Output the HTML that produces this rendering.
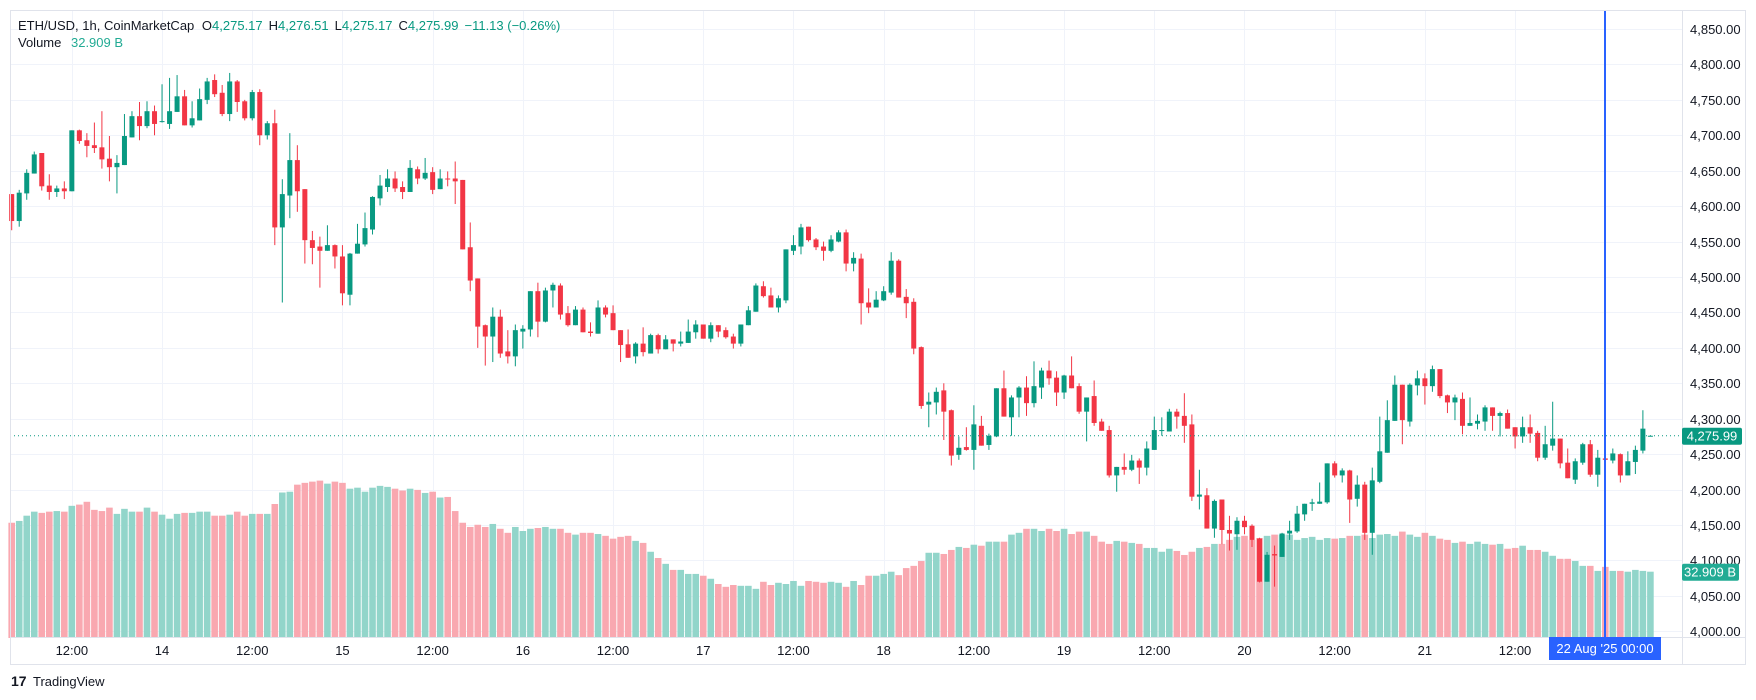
<!DOCTYPE html>
<html><head><meta charset="utf-8">
<style>
html,body{margin:0;padding:0;background:#fff;width:1756px;height:700px;overflow:hidden;font-family:"Liberation Sans",sans-serif;}
svg{position:absolute;left:0;top:0}
</style></head>
<body>
<svg id="chart" width="1756" height="700" viewBox="0 0 1756 700" xmlns="http://www.w3.org/2000/svg">
<rect x="0" y="0" width="1756" height="700" fill="#fff"/>
<g id="grid"></g>
<g id="vol"></g>
<g id="candles"></g>
<g id="overlay"></g>
<rect x="10.5" y="10.5" width="1735" height="654" fill="none" stroke="#e0e3eb"/>
<line x1="1682.5" y1="10" x2="1682.5" y2="664" stroke="#e0e3eb"/>
<line x1="10" y1="637.5" x2="1746" y2="637.5" stroke="#e0e3eb"/>
<g id="yaxis"></g>
<g id="xaxis"></g>
<g font-size="13" fill="#131722">
<text x="18" y="30">ETH/USD, 1h, CoinMarketCap <tspan dx="4">O</tspan><tspan fill="#089981">4,275.17</tspan><tspan dx="6">H</tspan><tspan fill="#089981">4,276.51</tspan><tspan dx="6">L</tspan><tspan fill="#089981">4,275.17</tspan><tspan dx="6">C</tspan><tspan fill="#089981">4,275.99</tspan><tspan dx="6" fill="#089981">−11.13 (−0.26%)</tspan></text>
<text x="18" y="47">Volume <tspan dx="6" fill="#22ab94">32.909 B</tspan></text>
</g>
<g>
<text x="11" y="686" font-size="14" font-weight="bold" fill="#131722">17</text>
<text x="33" y="686" font-size="13" fill="#131722">TradingView</text>
</g>
</svg>
<script>
const opens=[4617,4579,4618,4646,4675,4629,4620,4625,4621,4707,4693,4686,4683,4667,4655,4658,4697,4727,4713,4734,4719,4716,4733,4755,4714,4721,4750,4778,4760,4730,4776,4748,4724,4761,4700,4717,4570,4615,4665,4624,4552,4543,4537,4545,4529,4475,4533,4546,4567,4611,4627,4639,4627,4620,4652,4639,4648,4624,4639,4639,4637,4542,4498,4432,4416,4444,4395,4388,4423,4426,4480,4437,4481,4488,4449,4432,4454,4423,4420,4457,4449,4425,4405,4388,4406,4392,4418,4398,4412,4406,4407,4422,4433,4413,4432,4425,4416,4406,4432,4451,4487,4474,4457,4467,4537,4543,4571,4553,4543,4537,4550,4563,4519,4526,4464,4457,4467,4478,4523,4472,4465,4401,4320,4323,4340,4312,4249,4260,4256,4290,4263,4275,4343,4302,4330,4344,4322,4344,4368,4358,4337,4361,4346,4310,4332,4296,4284,4220,4232,4228,4241,4231,4256,4283,4282,4310,4304,4292,4190,4192,4145,4186,4143,4137,4156,4149,4131,4070,4109,4105,4138,4141,4165,4180,4180,4182,4237,4220,4227,4187,4207,4139,4211,4252,4297,4348,4296,4347,4357,4346,4370,4333,4323,4328,4290,4293,4296,4316,4304,4308,4288,4275,4288,4280,4245,4262,4272,4238,4214,4238,4264,4221,4244,4241,4250,4220,4239,4255,4275.17];
const highs=[4617,4623,4652,4677,4675,4645,4629,4635,4707,4708,4703,4718,4734,4699,4672,4730,4734,4747,4748,4742,4772,4781,4785,4764,4748,4766,4781,4786,4771,4788,4778,4750,4764,4765,4720,4736,4638,4703,4686,4624,4565,4557,4573,4546,4545,4534,4575,4591,4614,4644,4652,4649,4635,4665,4656,4668,4655,4652,4649,4663,4637,4577,4498,4433,4457,4454,4425,4433,4432,4480,4492,4485,4492,4491,4459,4459,4457,4436,4467,4460,4460,4425,4426,4408,4429,4420,4420,4418,4412,4423,4440,4439,4433,4436,4432,4429,4420,4433,4459,4491,4494,4485,4474,4539,4559,4575,4571,4555,4550,4559,4566,4567,4535,4533,4484,4480,4487,4535,4525,4483,4470,4402,4337,4344,4350,4313,4275,4288,4319,4304,4279,4343,4368,4333,4346,4360,4381,4372,4382,4367,4362,4388,4350,4330,4354,4300,4290,4232,4251,4249,4244,4268,4303,4302,4314,4314,4336,4306,4228,4202,4186,4186,4163,4161,4163,4151,4132,4112,4121,4139,4156,4177,4180,4187,4210,4237,4240,4230,4228,4220,4211,4231,4303,4326,4361,4348,4350,4368,4364,4375,4370,4334,4334,4337,4330,4306,4319,4316,4310,4313,4288,4303,4306,4283,4290,4324,4272,4258,4244,4266,4270,4256,4254,4258,4251,4254,4262,4312,4276.51];
const lows=[4566,4571,4609,4646,4622,4609,4613,4610,4621,4688,4669,4675,4653,4635,4618,4658,4697,4693,4710,4700,4718,4709,4733,4714,4711,4721,4744,4754,4727,4720,4733,4721,4721,4686,4694,4545,4464,4583,4592,4519,4518,4485,4537,4512,4460,4460,4533,4543,4560,4601,4620,4620,4610,4620,4631,4637,4617,4624,4628,4603,4539,4480,4400,4375,4380,4386,4378,4374,4399,4416,4415,4436,4457,4440,4430,4432,4422,4416,4420,4443,4425,4380,4386,4378,4388,4392,4392,4398,4395,4402,4407,4413,4413,4408,4415,4413,4399,4402,4432,4451,4471,4457,4450,4463,4531,4532,4550,4538,4523,4535,4549,4508,4508,4433,4449,4457,4466,4475,4471,4442,4391,4314,4288,4306,4270,4234,4242,4255,4228,4262,4256,4274,4303,4276,4302,4304,4316,4328,4348,4318,4328,4343,4307,4268,4290,4283,4217,4197,4221,4226,4208,4220,4256,4276,4282,4286,4266,4184,4172,4145,4132,4123,4114,4115,4137,4119,4069,4070,4063,4105,4129,4139,4156,4170,4180,4180,4217,4210,4153,4176,4129,4108,4209,4252,4297,4264,4289,4333,4320,4338,4329,4308,4298,4278,4290,4285,4283,4283,4275,4286,4258,4266,4266,4240,4242,4255,4230,4216,4208,4235,4218,4204,4211,4237,4210,4220,4222,4251,4275.17];
const closes=[4579,4619,4647,4673,4628,4620,4625,4621,4707,4692,4685,4682,4666,4655,4661,4699,4727,4713,4734,4716,4720,4734,4755,4714,4724,4751,4776,4758,4730,4776,4747,4724,4761,4700,4717,4570,4617,4665,4621,4552,4541,4537,4545,4529,4477,4533,4547,4569,4613,4629,4639,4625,4620,4654,4639,4647,4623,4639,4638,4635,4539,4495,4430,4416,4444,4392,4388,4425,4427,4480,4437,4481,4489,4447,4432,4454,4422,4421,4457,4447,4425,4404,4386,4406,4394,4418,4398,4412,4406,4409,4423,4433,4413,4432,4423,4415,4406,4433,4453,4488,4473,4457,4470,4539,4545,4570,4552,4542,4537,4553,4563,4519,4527,4463,4457,4468,4480,4523,4471,4463,4399,4318,4324,4338,4310,4248,4259,4256,4292,4262,4276,4343,4303,4330,4344,4322,4346,4368,4357,4337,4361,4343,4310,4330,4294,4283,4220,4232,4228,4241,4231,4258,4284,4284,4310,4303,4290,4190,4193,4145,4184,4143,4138,4156,4147,4129,4070,4108,4107,4138,4142,4166,4180,4182,4183,4237,4220,4227,4186,4207,4139,4213,4254,4298,4348,4298,4348,4357,4346,4370,4332,4323,4330,4290,4294,4297,4316,4304,4308,4286,4275,4288,4279,4245,4264,4272,4237,4216,4240,4264,4221,4245,4242,4251,4220,4240,4256,4286,4275.99];
const volumes=[57.2,58.1,60.7,62.7,62.1,62.7,63.0,62.7,65.6,66.2,67.6,63.6,63.0,64.7,61.6,64.1,62.7,62.7,64.7,62.7,61.2,59.2,61.6,62.1,62.1,62.7,62.7,60.7,60.7,61.2,62.7,60.7,61.6,61.6,61.6,66.5,72.2,72.6,76.1,77.0,77.6,78.1,76.6,77.6,77.0,74.1,74.6,72.6,74.6,75.5,75.0,74.1,73.2,74.1,73.5,72.0,72.6,69.7,70.0,63.0,57.2,55.1,56.2,55.1,56.6,54.2,52.2,55.1,53.1,54.2,54.6,55.1,54.2,54.2,52.2,51.3,52.2,52.2,51.6,50.7,49.3,50.2,50.7,48.2,47.2,42.8,39.7,36.8,33.8,33.8,31.8,31.8,30.9,29.4,26.8,25.4,26.3,25.9,25.9,24.4,27.9,26.3,27.4,26.8,28.3,25.9,28.3,27.9,27.4,27.9,27.4,25.4,28.3,26.3,30.9,30.9,31.8,32.9,31.2,34.7,35.8,38.2,42.3,42.3,41.7,43.7,45.2,44.7,46.3,45.8,47.8,47.8,47.8,51.3,52.2,54.2,54.2,53.1,54.2,53.1,54.2,51.6,52.8,52.8,50.7,47.8,46.7,48.2,47.8,47.2,46.7,44.7,44.7,42.8,44.3,43.2,41.2,42.8,44.7,45.2,46.7,46.7,48.7,50.2,50.7,48.7,49.6,50.7,51.3,51.3,51.3,48.7,49.6,50.2,48.7,49.6,49.3,49.6,50.7,50.7,51.3,49.6,51.3,51.6,50.7,52.8,51.3,50.2,52.2,50.7,49.3,48.7,47.2,47.8,46.7,47.8,46.7,46.3,46.7,44.3,44.7,45.8,43.7,43.7,42.8,40.8,39.3,39.3,38.2,35.8,35.8,33.3,35.3,33.3,33.3,32.9,33.8,33.3,32.909];
const priceTicks=[4000,4050,4100,4150,4200,4250,4300,4350,4400,4450,4500,4550,4600,4650,4700,4750,4800,4850];
const timeLabels=["12:00","14","12:00","15","12:00","16","12:00","17","12:00","18","12:00","19","12:00","20","12:00","21","12:00"];
const lastPrice=4275.99;

const NS="http://www.w3.org/2000/svg";
function yP(p){return 29+(4850-p)*0.7086;}
function xI(i){return 11.7+i*7.517;}
function yV(v){return 638-v*2.015;}
function mk(tag,attrs,parent){const e=document.createElementNS(NS,tag);for(const k in attrs)e.setAttribute(k,attrs[k]);parent.appendChild(e);return e;}
const grid=document.getElementById('grid'),vol=document.getElementById('vol'),cg=document.getElementById('candles'),ov=document.getElementById('overlay'),ya=document.getElementById('yaxis'),xa=document.getElementById('xaxis');

priceTicks.forEach(p=>{
  const y=Math.round(yP(p))+0.5;
  const l=mk('line',{x1:10,x2:1682,y1:y,y2:y,stroke:'#f0f3fa'},grid);
  
  
  const t=mk('text',{x:1690,y:y+4.5,'font-size':13,fill:'#131722'},ya);
  t.textContent=p.toLocaleString('en-US',{minimumFractionDigits:2});
  
  
});
timeLabels.forEach((s,k)=>{
  const x=xI(8)+ (k)*90.2; // first label at 13 Aug 12:00 (i=8)
  const l=mk('line',{x1:Math.round(x)+0.5,x2:Math.round(x)+0.5,y1:10,y2:637,stroke:'#f0f3fa'},grid);
  
  
  const t=mk('text',{x:x,y:655,'font-size':13,fill:'#131722','text-anchor':'middle'},xa);
  t.textContent=s;
  
  
});

volumes.forEach((v,i)=>{
  const up=closes[i]>=opens[i];
  const x=xI(i);
  const r=mk('rect',{x:x-3.3,y:yV(v),width:6.6,height:638-yV(v),fill:up?'#92d5ca':'#f9a8b0'},vol);
  
  
});
opens.forEach((o,i)=>{
  const c=closes[i],up=c>=o,col=up?'#089981':'#f23645',x=xI(i);
  const w=mk('line',{x1:x,x2:x,y1:yP(highs[i]),y2:yP(lows[i]),stroke:col,'stroke-width':1},cg);
  
  
  const top=yP(Math.max(o,c)),bot=yP(Math.min(o,c));
  const b=mk('rect',{x:x-2.5,y:top,width:5,height:Math.max(1,bot-top),fill:col},cg);
  
  
});

const ly=yP(lastPrice);
const dl=mk('line',{x1:10,x2:1682,y1:ly,y2:ly,stroke:'#089981','stroke-dasharray':'1 3'},ov);


const bl=mk('rect',{x:1604,y:10,width:2,height:627,fill:'#2962ff'},ov);



const pt=mk('rect',{x:1682,y:ly-8,width:60,height:17,rx:2,fill:'#089981'},ya);


const ptt=mk('text',{x:1712,y:ly+5,'font-size':13,fill:'#fff','text-anchor':'middle'},ya);
ptt.textContent=lastPrice.toLocaleString('en-US',{minimumFractionDigits:2});


const vy=yV(volumes[volumes.length-1]);
const vt=mk('rect',{x:1682,y:vy-8,width:57,height:17,rx:2,fill:'#22ab94'},ya);


const vtt=mk('text',{x:1710,y:vy+5,'font-size':13,fill:'#fff','text-anchor':'middle'},ya);
vtt.textContent='32.909 B';



const tb=mk('rect',{x:1549,y:637,width:112,height:23,fill:'#2962ff'},xa);


const tbt=mk('text',{x:1605,y:653,'font-size':13,fill:'#fff','text-anchor':'middle'},xa);
tbt.textContent="22 Aug '25   00:00";
tbt.setAttribute('xml:space','preserve');


</script>
</body></html>
